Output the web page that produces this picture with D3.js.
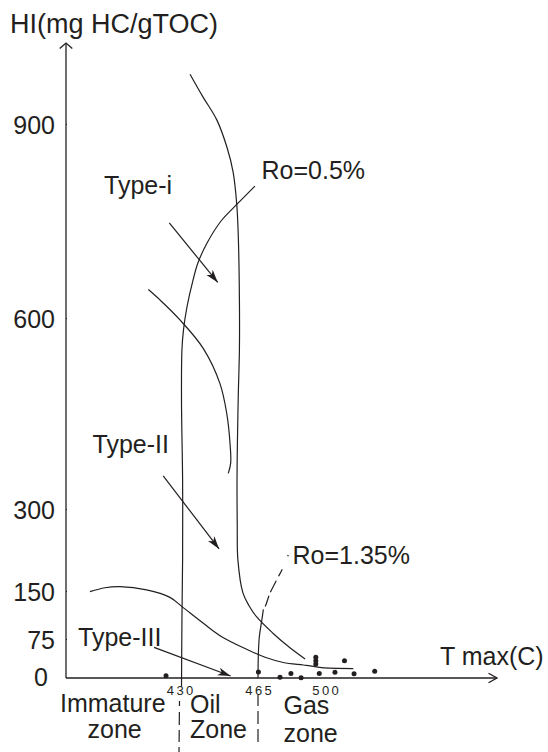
<!DOCTYPE html>
<html>
<head>
<meta charset="utf-8">
<script src="https://cdn.jsdelivr.net/npm/d3@7"></script>
<style>
  html, body { margin: 0; padding: 0; background: #fff; }
  svg text { font-family: "Liberation Sans", Arial, sans-serif; fill: #231f20; }
</style>
</head>
<body>
<svg id="chart" width="548" height="752"></svg>
<script>
// ---- data: HI (mg HC/gTOC) against Tmax (°C) ----
const hiTicks = [0, 75, 150, 300, 600, 900];
const tmaxTicks = [430, 465, 500];
const zoneBounds = [430, 465];
const zoneNames = [["Immature", "zone"], ["Oil", "Zone"], ["Gas", "zone"]];

// kerogen evolution paths, [Tmax, HI]
const typeI = [[433.9, 977], [439.8, 942], [446.2, 906], [450.8, 864], [453.6, 826], [455.3, 775],
  [456.0, 725], [456.5, 628], [456.5, 550], [456.0, 482], [455.6, 408], [455.4, 346], [455.5, 270],
  [455.8, 207], [458.1, 147], [460.9, 127], [464.5, 109], [472.8, 84], [481.7, 58], [489.6, 36.5]];
const typeII = [[414.8, 644], [420.1, 628], [429.3, 597], [440.0, 552], [447.6, 497], [450.7, 450],
  [452.2, 403], [452.5, 372], [451.4, 356]];
const typeIII = [[388.0, 149], [394.9, 156], [401.8, 158], [414.0, 152], [424.7, 140], [430.8, 124],
  [440.0, 99.5], [448.4, 78.6], [459.8, 55.2], [468.7, 39.8], [478.2, 29.8], [488.7, 25], [493.9, 22.5],
  [498.3, 19.8], [514.8, 18.1]];

// vitrinite reflectance iso-lines
const ro05 = [[463.6, 804], [455.4, 776], [448.1, 750], [441.7, 716], [437.5, 685], [435.3, 659],
  [432.5, 617], [430.9, 581], [430.2, 550], [430.0, 471], [430.5, 346], [430.5, 207], [430.2, 105], [430.0, -17]];
const ro135Dashed = [[480.8, 216], [477.7, 190], [475.6, 176], [473.4, 161], [471.3, 147], [468.7, 125.5], [467.8, 121.4]];
const ro135Solid = [[467.8, 121.4], [467.0, 104.7], [465.7, 78.6], [465.2, 47.5], [465.0, 0]];

// measured samples
const samples = [[422.9, 4.4], [465.2, 11.5], [476.5, 1.5], [482.2, 8.7], [487.5, 0.6], [495.2, 39.8],
  [495.2, 33.3], [495.2, 26.9], [497.0, 8.7], [505.2, 11], [510.2, 33.3], [515.2, 8.3], [526.0, 12.9]];

// pointer arrows for the type labels
const arrows = [
  [[424.4, 747], [446.6, 655]],
  [[421.6, 352], [447.2, 227]],
  [[417.4, 59], [452.5, 3.8]]
];

// ---- drawing ----
const ink = "#231f20";
const svg = d3.select("#chart");

// hand-spaced axes: piecewise linear scales
const x = d3.scaleLinear().domain([377, 430, 465, 500, 590]).range([66, 181.5, 258, 325, 497]);
const y = d3.scaleLinear().domain([0, 75, 150, 300, 600, 900, 1000]).range([678, 639, 591, 509, 318, 124, 59.3]);

const x0 = x.range()[0], xEnd = x.range()[4];
const y0 = y(0), yTop = 43;

svg.append("defs").append("marker")
  .attr("id", "head")
  .attr("viewBox", "-14 -6 16 12")
  .attr("markerUnits", "userSpaceOnUse")
  .attr("markerWidth", 16).attr("markerHeight", 12)
  .attr("refX", 0).attr("refY", 0)
  .attr("orient", "auto")
  .append("path")
  .attr("d", "M0,0 L-13,-4 L-9.5,0 L-13,4 Z")
  .attr("fill", ink);

// axis lines with open arrow tips
const axes = svg.append("g").attr("stroke", ink).attr("stroke-width", 1.3).attr("fill", "none");
axes.append("path").attr("d", `M${x0},${y0} V${yTop}`);
axes.append("path").attr("d", `M${x0 - 6.3},${yTop + 5.5} L${x0},${yTop} L${x0 + 6.3},${yTop + 5.5}`);
axes.append("path").attr("d", `M${x0},${y0} H${xEnd}`);
axes.append("path").attr("d", `M${xEnd - 8.5},${y0 - 4.8} L${xEnd},${y0} L${xEnd - 8.5},${y0 + 4.8}`);

// HI ticks
const yAxis = svg.append("g")
  .attr("transform", `translate(${x0},0)`)
  .call(d3.axisLeft(y).tickValues(hiTicks).tickSize(7).tickPadding(4).tickFormat(d3.format("d")));
yAxis.select(".domain").remove();
yAxis.selectAll(".tick line").attr("stroke", ink).attr("stroke-width", 1.2).attr("x2", 1)
  .filter(d => d === 0).remove();
yAxis.selectAll(".tick text")
  .attr("font-size", 25).attr("fill", ink).attr("dy", "0.36em")
  .filter(d => d === 0).attr("x", -18).attr("dy", "0.3em");

// Tmax ticks
const xAxis = svg.append("g")
  .attr("transform", `translate(0,${y0})`)
  .call(d3.axisBottom(x).tickValues(tmaxTicks).tickSize(0).tickPadding(8));
xAxis.select(".domain").remove();
xAxis.selectAll(".tick text")
  .attr("font-size", 13).attr("fill", ink)
  .style("letter-spacing", "2.4px").attr("dx", d => d === 430 ? -0.8 : 1.2);

// zone separators below the axis
const sepSpans = [[701, 752, "5,6,13,5,12,5"], [695, 745, "11,5,13,5,13,5"]];
svg.append("g").selectAll("line").data(zoneBounds).join("line")
  .attr("x1", (d, i) => x(d) - (i === 0 ? 2 : 0))
  .attr("x2", (d, i) => x(d) - (i === 0 ? 2.5 : 0))
  .attr("y1", (d, i) => sepSpans[i][0]).attr("y2", (d, i) => sepSpans[i][1])
  .attr("stroke", ink).attr("stroke-width", 1.2)
  .attr("stroke-dasharray", (d, i) => sepSpans[i][2]);

// curves
const line = d3.line().x(d => x(d[0])).y(d => y(d[1])).curve(d3.curveCatmullRom.alpha(0.5));
const curves = svg.append("g").attr("fill", "none").attr("stroke", ink).attr("stroke-width", 1.2);
[typeI, typeII, typeIII, ro05, ro135Solid].forEach(c => curves.append("path").attr("d", line(c)));
curves.append("path").attr("d", line(ro135Dashed)).attr("stroke-dasharray", "1.5,14,8,5,13,4,11,4");

// arrows
svg.append("g").selectAll("line").data(arrows).join("line")
  .attr("x1", d => x(d[0][0])).attr("y1", d => y(d[0][1]))
  .attr("x2", d => x(d[1][0])).attr("y2", d => y(d[1][1]))
  .attr("stroke", ink).attr("stroke-width", 1.2)
  .attr("marker-end", "url(#head)");

// samples
svg.append("g").selectAll("circle").data(samples).join("circle")
  .attr("cx", d => x(d[0])).attr("cy", d => y(d[1]))
  .attr("r", 2.5).attr("fill", ink);

// text labels
const labels = [
  { t: "HI(mg HC/gTOC)", x: 10, y: 33, s: 27 },
  { t: "Type-i", x: 104, y: 194, s: 25 },
  { t: "Ro=0.5%", x: 261.5, y: 178.5, s: 25 },
  { t: "Type-II", x: 92.5, y: 452.5, s: 25 },
  { t: "Ro=1.35%", x: 292.5, y: 563.5, s: 25 },
  { t: "Type-III", x: 78, y: 646, s: 25 },
  { t: "T max(C)", x: 440, y: 665, s: 25 }
];
svg.append("g").selectAll("text").data(labels).join("text")
  .attr("x", d => d.x).attr("y", d => d.y).attr("font-size", d => d.s).text(d => d.t);

const zonePos = [[60, 712, 87.5, 737.5], [190, 712.5, 190, 737.5], [283.5, 714, 283.5, 741.5]];
const zg = svg.append("g").attr("font-size", 25);
zoneNames.forEach((z, i) => {
  const p = zonePos[i];
  zg.append("text").attr("x", p[0]).attr("y", p[1]).text(z[0]);
  zg.append("text").attr("x", p[2]).attr("y", p[3]).text(z[1]);
});
</script>
</body>
</html>
